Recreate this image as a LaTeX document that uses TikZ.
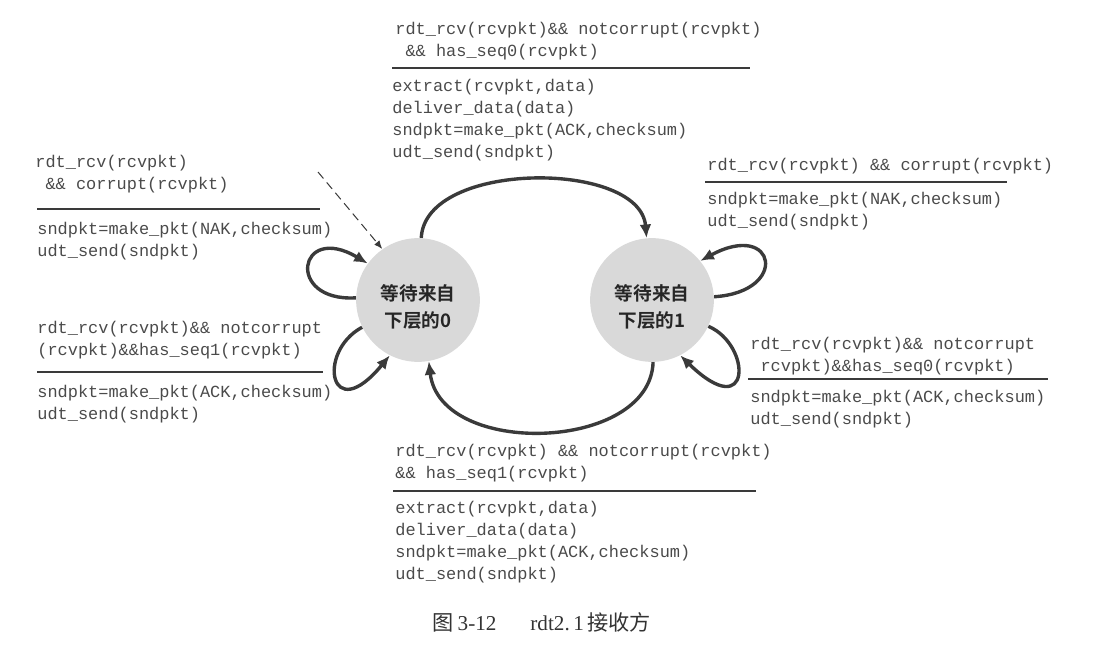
\documentclass[tikz,border=0pt]{standalone}
\usepackage{fontspec}
\setmainfont{Liberation Serif}
\setmonofont{Liberation Mono}
\newfontfamily\cjk{Noto Sans CJK SC}[BoldFont={Noto Sans CJK SC Bold}]
\usepackage{xcolor}
\usetikzlibrary{arrows.meta, positioning}
\definecolor{stategray}{HTML}{D9D9D9}
\definecolor{linegray}{HTML}{3A3A3A}
\definecolor{textgray}{HTML}{4A4A4A}

\begin{document}
\begin{tikzpicture}[
  x=0.59pt, y=-0.59pt,
  state/.style={circle, fill=stategray, minimum size=73pt, inner sep=0pt, align=center,
    text=black!85, font=\cjk\bfseries\fontsize{11}{16}\selectfont},
  label/.style={anchor=base west, inner sep=0pt, align=left, text=textgray,
    font=\ttfamily\fontsize{10}{12.8}\selectfont},
  rule/.style={draw=linegray, line width=0.8pt},
  trans/.style={-{Latex[length=8pt, width=7pt]}, draw=linegray, line width=2pt},
  init/.style={-{Latex[length=5pt, width=4pt]}, draw=linegray, dash pattern=on 5pt off 3pt, line width=0.6pt}
]
\useasboundingbox (0,0) rectangle (1118,648);

% States
\node[state] (w0) at (418,300) {\rule{0pt}{17.5pt}等待来自\\下层的0};
\node[state] (w1) at (652,300) {\rule{0pt}{17.5pt}等待来自\\下层的1};

% Labels (placed at the baseline of their last line)
\node[label] (c01) at (395,56) {rdt\_rcv(rcvpkt)\&\& notcorrupt(rcvpkt)\\~\&\& has\_seq0(rcvpkt)};
\node[label] (a01) at (392,157) {extract(rcvpkt,data)\\deliver\_data(data)\\sndpkt=make\_pkt(ACK,checksum)\\udt\_send(sndpkt)};
\node[label] (c00) at (35,189) {rdt\_rcv(rcvpkt)\\~\&\& corrupt(rcvpkt)};
\node[label] (a00) at (37,256) {sndpkt=make\_pkt(NAK,checksum)\\udt\_send(sndpkt)};
\node[label] (c00b) at (37,355) {rdt\_rcv(rcvpkt)\&\& notcorrupt\\(rcvpkt)\&\&has\_seq1(rcvpkt)};
\node[label] (a00b) at (37,419) {sndpkt=make\_pkt(ACK,checksum)\\udt\_send(sndpkt)};
\node[label] (c11) at (707,170) {rdt\_rcv(rcvpkt) \&\& corrupt(rcvpkt)};
\node[label] (a11) at (707,226) {sndpkt=make\_pkt(NAK,checksum)\\udt\_send(sndpkt)};
\node[label] (c11b) at (750,371) {rdt\_rcv(rcvpkt)\&\& notcorrupt\\~rcvpkt)\&\&has\_seq0(rcvpkt)};
\node[label] (a11b) at (750,424) {sndpkt=make\_pkt(ACK,checksum)\\udt\_send(sndpkt)};
\node[label] (c10) at (395,478) {rdt\_rcv(rcvpkt) \&\& notcorrupt(rcvpkt)\\\&\& has\_seq1(rcvpkt)};
\node[label] (a10) at (395,579) {extract(rcvpkt,data)\\deliver\_data(data)\\sndpkt=make\_pkt(ACK,checksum)\\udt\_send(sndpkt)};

% Rules
\draw[rule] (392,68) -- (750,68);
\draw[rule] (37,209) -- (320,209);
\draw[rule] (37,372) -- (323,372);
\draw[rule] (705,182) -- (1007,182);
\draw[rule] (748,379) -- (1048,379);
\draw[rule] (393,491) -- (756,491);

% Pointers
\draw[trans] (w0.87) .. controls (425,160) and (640,160) .. (w1.95);
\draw[trans] (w1.271) .. controls (650,452) and (440,458) .. (w0.280);
\draw[trans] (w0.178) .. controls (285,302) and (298,222) .. (w0.144);
\draw[trans] (w0.206) .. controls (316,352) and (330,428) .. (w0.243);
\draw[trans] (w1.3) .. controls (790,292) and (776,220) .. (w1.39);
\draw[trans] (w1.335) .. controls (752,345) and (752,425) .. (w1.297);
\coordinate (start) at (318,172);
\draw[init] (start) -- (w0.125);

% Caption
\node[text=black!80, font=\fontsize{12.5}{15}\selectfont] (cap) at (542,622)
  {{\cjk 图}\,3-12\hspace{1.6em}rdt2.\,1\,{\cjk 接收方}};

\end{tikzpicture}
\end{document}
